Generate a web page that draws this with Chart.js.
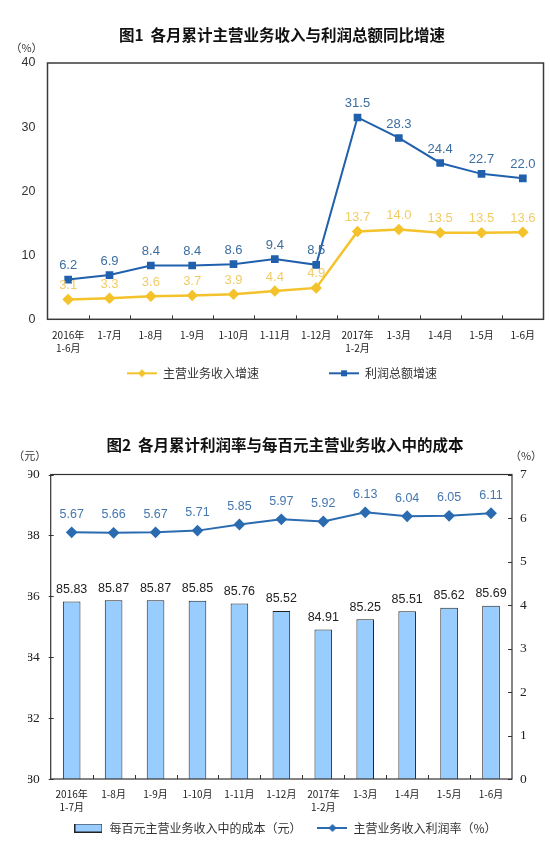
<!DOCTYPE html>
<html>
  <head>
    <meta charset="utf-8" />
    <title>各月累计主营业务收入与利润</title>
    <script src="https://cdn.jsdelivr.net/npm/chart.js"></script>
    <style>
      html, body { margin: 0; padding: 0; background: #fff; overflow: hidden; }
      #box1 { position: absolute; left: 0; top: 0; width: 550px; height: 400px; }
      #box2 { position: absolute; left: 0; top: 400px; width: 550px; height: 444px; }
    </style>
  </head>
  <body>
    <div id="box1"><canvas id="chart1" width="550" height="400"></canvas></div>
    <div id="box2"><canvas id="chart2" width="550" height="444"></canvas></div>

    <script>
      // ---- figure 1 data ----
      const months1 = [["2016年", "1-6月"], "1-7月", "1-8月", "1-9月", "1-10月", "1-11月", "1-12月",
        ["2017年", "1-2月"], "1-3月", "1-4月", "1-5月", "1-6月"];
      const revenueGrowth = [3.1, 3.3, 3.6, 3.7, 3.9, 4.4, 4.9, 13.7, 14.0, 13.5, 13.5, 13.6];
      const profitGrowth = [6.2, 6.9, 8.4, 8.4, 8.6, 9.4, 8.5, 31.5, 28.3, 24.4, 22.7, 22.0];
      const yTicks1 = [0, 10, 20, 30, 40];

      // ---- figure 2 data ----
      const months2 = [["2016年", "1-7月"], "1-8月", "1-9月", "1-10月", "1-11月", "1-12月",
        ["2017年", "1-2月"], "1-3月", "1-4月", "1-5月", "1-6月"];
      const costPer100 = [85.83, 85.87, 85.87, 85.85, 85.76, 85.52, 84.91, 85.25, 85.51, 85.62, 85.69];
      const profitRate = [5.67, 5.66, 5.67, 5.71, 5.85, 5.97, 5.92, 6.13, 6.04, 6.05, 6.11];
      const yTicks2Left = [80, 82, 84, 86, 88, 90];
      const yTicks2Right = [0, 1, 2, 3, 4, 5, 6, 7];

      const CJK = '"Noto Sans CJK SC", "Noto Sans", sans-serif';
      const SANS = '"Liberation Sans", Arial, sans-serif';
      const SERIF = '"Liberation Serif", "Times New Roman", serif';

      // small canvas used as legend symbol
      function makeIcon(w, h, draw) {
        const c = document.createElement("canvas");
        c.width = w;
        c.height = h;
        draw(c.getContext("2d"), w, h);
        return c;
      }
      function lineIcon(color, marker) {
        return makeIcon(30, 10, (g, w, h) => {
          g.strokeStyle = color;
          g.lineWidth = 2;
          g.beginPath();
          g.moveTo(0, h / 2);
          g.lineTo(w, h / 2);
          g.stroke();
          g.fillStyle = color;
          g.beginPath();
          if (marker === "square") {
            g.rect(w / 2 - 3, h / 2 - 3, 6, 6);
          } else {
            g.moveTo(w / 2, h / 2 - 4);
            g.lineTo(w / 2 + 4, h / 2);
            g.lineTo(w / 2, h / 2 + 4);
            g.lineTo(w / 2 - 4, h / 2);
            g.closePath();
          }
          g.fill();
        });
      }
      const boxIcon = makeIcon(28, 9, (g, w, h) => {
        g.fillStyle = "#99CCFF";
        g.fillRect(0.5, 0.5, w - 1, h - 1);
        g.strokeStyle = "#222";
        g.lineWidth = 1;
        g.strokeRect(0.5, 0.5, w - 1, h - 1);
      });

      // numbers over points / bars
      const valueLabels = {
        id: "valueLabels",
        afterDatasetsDraw(chart) {
          const ctx = chart.ctx;
          chart.data.datasets.forEach((ds, i) => {
            const lab = ds.valueLabel;
            if (!lab) return;
            const meta = chart.getDatasetMeta(i);
            ctx.save();
            ctx.font = lab.font;
            ctx.fillStyle = lab.color;
            ctx.textAlign = "center";
            ctx.textBaseline = "middle";
            meta.data.forEach((el, j) => {
              ctx.fillText(ds.data[j].toFixed(lab.digits), el.x, el.y - lab.offset);
            });
            ctx.restore();
          });
        }
      };

      // plot frame, short inner ticks and the unit captions
      const frame = {
        id: "frame",
        afterDraw(chart, args, opts) {
          const { ctx, chartArea: a, scales } = chart;
          ctx.save();
          ctx.strokeStyle = opts.color;
          ctx.lineWidth = opts.width;
          ctx.strokeRect(a.left, a.top, a.right - a.left, a.bottom - a.top);
          ctx.lineWidth = 1;
          ctx.beginPath();
          const x = scales.x;
          for (let i = 1; i < x.ticks.length; i++) {
            const px = Math.round((x.getPixelForTick(i - 1) + x.getPixelForTick(i)) / 2) + 0.5;
            ctx.moveTo(px, a.bottom);
            ctx.lineTo(px, a.bottom - 4);
          }
          (opts.yTicks || []).forEach((id) => {
            const s = scales[id];
            s.ticks.forEach((t, i) => {
              const py = Math.round(s.getPixelForTick(i)) + 0.5;
              if (s.position === "left") {
                ctx.moveTo(a.left - 2, py);
                ctx.lineTo(a.left + 3, py);
              } else {
                ctx.moveTo(a.right - 4, py);
                ctx.lineTo(a.right, py);
              }
            });
          });
          ctx.stroke();
          ctx.font = "11px " + CJK;
          ctx.fillStyle = "#333";
          ctx.textAlign = "center";
          ctx.textBaseline = "middle";
          (opts.units || []).forEach((u) => {
            const ux = u.side === "left" ? a.left + u.dx : a.right + u.dx;
            ctx.fillText(u.text, ux, a.top + u.dy);
          });
          ctx.restore();
        }
      };

      function fixedTicks(list) {
        return (scale) => {
          scale.ticks = list.map((v) => ({ value: v }));
        };
      }

      // ---------- 图1 ----------
      new Chart(document.getElementById("chart1"), {
        type: "line",
        data: {
          labels: months1,
          datasets: [
            {
              label: "主营业务收入增速",
              data: revenueGrowth,
              borderColor: "#F4C22B",
              backgroundColor: "#F4C22B",
              borderWidth: 2.5,
              pointStyle: "rectRot",
              pointRadius: 4,
              tension: 0,
              legendIcon: lineIcon("#F4C22B", "diamond"),
              valueLabel: { font: "13px " + SANS, color: "#F1CC66", offset: 14, digits: 1 }
            },
            {
              label: "利润总额增速",
              data: profitGrowth,
              borderColor: "#2060AC",
              backgroundColor: "#2060AC",
              borderWidth: 2,
              pointStyle: "rect",
              pointRadius: 4,
              tension: 0,
              legendIcon: lineIcon("#2060AC", "square"),
              valueLabel: { font: "13px " + SANS, color: "#3C6E9F", offset: 14, digits: 1 }
            }
          ]
        },
        options: {
          responsive: false,
          animation: false,
          layout: { padding: { left: 20, right: 6, top: 0, bottom: 10.7 } },
          scales: {
            x: {
              offset: true,
              grid: { display: false, drawTicks: false },
              border: { display: false },
              ticks: { font: { family: CJK, size: 10, lineHeight: 1.3 }, color: "#222", padding: 9, maxRotation: 0, autoSkip: false },
              afterFit: (s) => { s.height = 38; }
            },
            y: {
              min: 0,
              max: 40,
              grid: { display: false, drawTicks: false },
              border: { display: false },
              ticks: { font: { family: SANS, size: 12.5 }, color: "#333", padding: 12 },
              afterBuildTicks: fixedTicks(yTicks1),
              afterFit: (s) => { s.width = 27.5; }
            }
          },
          plugins: {
            title: {
              display: true,
              text: "图1  各月累计主营业务收入与利润总额同比增速",
              font: { family: CJK, size: 15.5, weight: "bold", lineHeight: 1.2 },
              color: "#111",
              padding: { top: 26, bottom: 18.4 }
            },
            legend: {
              position: "bottom",
              labels: {
                usePointStyle: true,
                pointStyleWidth: 30,
                padding: 10,
                font: { family: CJK, size: 12 },
                generateLabels: (chart) =>
                  chart.data.datasets.map((ds, i) => ({
                    text: ds.label + (i === 0 ? "\u3000\u3000\u3000\u3000\u3000" : ""),
                    pointStyle: ds.legendIcon,
                    fontColor: "#333",
                    fillStyle: "transparent",
                    strokeStyle: "transparent",
                    lineWidth: 0,
                    hidden: false,
                    datasetIndex: i
                  }))
              }
            },
            tooltip: { enabled: false },
            frame: {
              color: "#3a3a3a",
              width: 1.5,
              units: [{ text: "（%）", side: "left", dx: -21, dy: -15 }]
            }
          }
        },
        plugins: [valueLabels, frame]
      });

      // ---------- 图2 ----------
      new Chart(document.getElementById("chart2"), {
        data: {
          labels: months2,
          datasets: [
            {
              type: "bar",
              label: "每百元主营业务收入中的成本（元）",
              data: costPer100,
              yAxisID: "y",
              backgroundColor: "#99CCFF",
              borderColor: "#222",
              borderWidth: 1,
              barPercentage: 0.42,
              categoryPercentage: 1,
              legendIcon: boxIcon,
              valueLabel: { font: "12.5px " + SANS, color: "#222", offset: 12, digits: 2 }
            },
            {
              type: "line",
              label: "主营业务收入利润率（%）",
              data: profitRate,
              yAxisID: "y1",
              borderColor: "#2B6BB0",
              backgroundColor: "#2B6BB0",
              borderWidth: 2,
              pointStyle: "rectRot",
              pointRadius: 4.5,
              tension: 0,
              legendIcon: lineIcon("#2B6BB0", "diamond"),
              valueLabel: { font: "12.5px " + SANS, color: "#4577B0", offset: 18, digits: 2 }
            }
          ]
        },
        options: {
          responsive: false,
          animation: false,
          layout: { padding: { left: 28, right: 8, top: 0, bottom: 0 } },
          scales: {
            x: {
              offset: true,
              grid: { display: false, drawTicks: false },
              border: { display: false },
              ticks: { font: { family: CJK, size: 10, lineHeight: 1.3 }, color: "#222", padding: 9, maxRotation: 0, autoSkip: false },
              afterFit: (s) => { s.height = 33; }
            },
            y: {
              position: "left",
              min: 80,
              max: 90,
              grid: { display: false, drawTicks: false },
              border: { display: false },
              ticks: { font: { family: SERIF, size: 13.5 }, color: "#222", padding: 11 },
              afterBuildTicks: fixedTicks(yTicks2Left),
              afterFit: (s) => { s.width = 22.7; }
            },
            y1: {
              position: "right",
              min: 0,
              max: 7,
              grid: { display: false, drawTicks: false },
              border: { display: false },
              ticks: { font: { family: SERIF, size: 13.5 }, color: "#222", padding: 8 },
              afterBuildTicks: fixedTicks(yTicks2Right),
              afterFit: (s) => { s.width = 30; }
            }
          },
          plugins: {
            title: {
              display: true,
              text: "图2  各月累计利润率与每百元主营业务收入中的成本",
              font: { family: CJK, size: 15.5, weight: "bold", lineHeight: 1.2 },
              color: "#111",
              padding: { top: 35.7, bottom: 20.2 }
            },
            legend: {
              position: "bottom",
              labels: {
                usePointStyle: true,
                pointStyleWidth: 30,
                padding: 10,
                font: { family: CJK, size: 12 },
                generateLabels: (chart) =>
                  chart.data.datasets.map((ds, i) => ({
                    text: ds.label + (i === 0 ? "\u3000" : ""),
                    pointStyle: ds.legendIcon,
                    fontColor: "#333",
                    fillStyle: "transparent",
                    strokeStyle: "transparent",
                    lineWidth: 0,
                    hidden: false,
                    datasetIndex: i
                  }))
              }
            },
            tooltip: { enabled: false },
            frame: {
              color: "#333",
              width: 1.2,
              yTicks: ["y", "y1"],
              units: [
                { text: "（元）", side: "left", dx: -21, dy: -19 },
                { text: "（%）", side: "right", dx: 14, dy: -19 }
              ]
            }
          }
        },
        plugins: [valueLabels, frame]
      });
    </script>
  </body>
</html>
